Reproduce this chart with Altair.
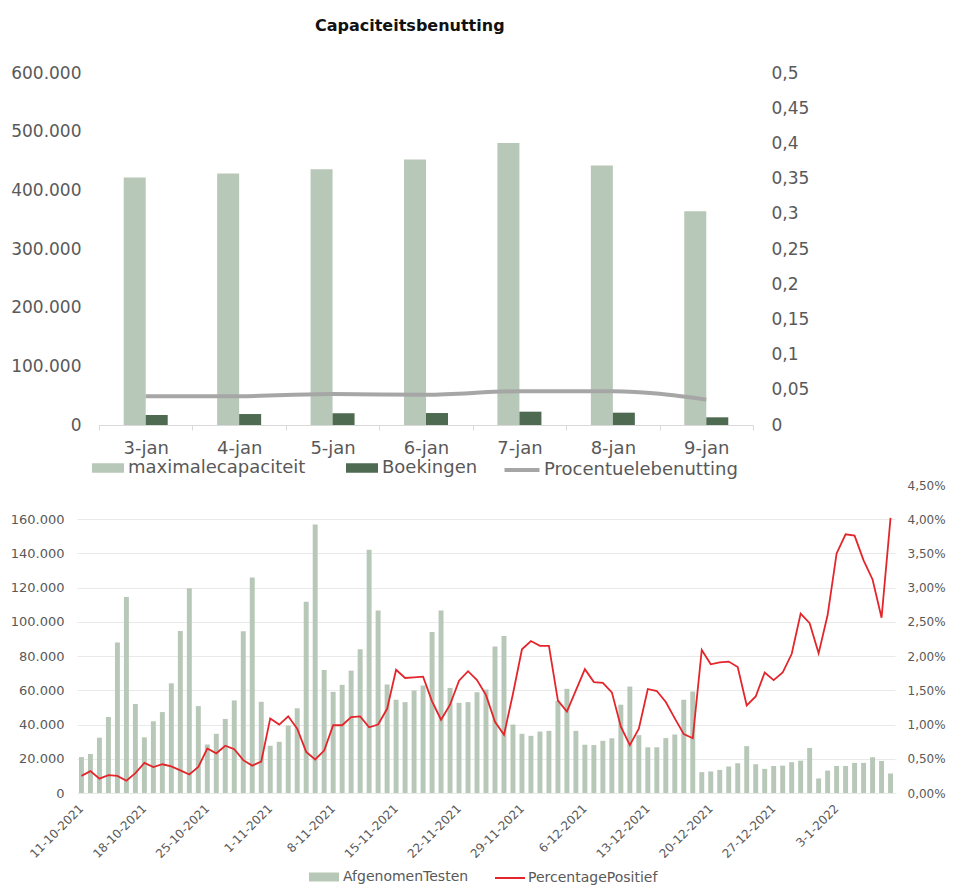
import altair as alt
import pandas as pd

# ---------------- data: top chart ----------------
dagen_top = ["3-jan", "4-jan", "5-jan", "6-jan", "7-jan", "8-jan", "9-jan"]
maximale_capaciteit = [421800, 428600, 436000, 452400, 480800, 442200, 364400]
boekingen = [17000, 18700, 19900, 20400, 22700, 21000, 13100]
procentuele_benutting = [0.041, 0.041, 0.044, 0.043, 0.048, 0.048, 0.036]

# ---------------- data: bottom chart ----------------
start_datum = "2021-10-11"
afgenomen_testen = [
    21000, 22800, 32300, 44400, 87900, 114600, 52000,
    32500, 41900, 47300, 64100, 94700, 119600, 50800,
    28400, 34600, 43300, 54100, 94500, 126000, 53300,
    27600, 29900, 39400, 49500, 111700, 156900, 71900,
    59100, 63200, 71500, 84000, 142200, 106600, 63400,
    54500, 53100, 59900, 62800, 94100, 106600, 61400,
    52700, 53100, 58900, 60500, 85600, 91800, 40000,
    34600, 33400, 35900, 36300, 53900, 60900, 36300,
    28200, 28000, 30500, 32000, 51600, 62200, 33800,
    26700, 26700, 32100, 34200, 54500, 59300, 12200,
    12600, 13500, 15500, 17400, 27400, 16800, 14100,
    15800, 16000, 18000, 18900, 26300, 8500, 13100,
    15800, 15800, 17600, 17600, 20900, 18700, 11400,
]
percentage_positief = [
    0.25, 0.32, 0.21, 0.26, 0.25, 0.18, 0.29,
    0.44, 0.38, 0.42, 0.39, 0.33, 0.27, 0.38,
    0.65, 0.58, 0.69, 0.64, 0.48, 0.40, 0.46,
    1.09, 1.00, 1.12, 0.94, 0.60, 0.49, 0.62,
    0.99, 0.99, 1.11, 1.12, 0.96, 1.00, 1.23,
    1.80, 1.68, 1.69, 1.70, 1.34, 1.07, 1.29,
    1.64, 1.78, 1.65, 1.43, 1.04, 0.85, 1.45,
    2.10, 2.22, 2.15, 2.15, 1.35, 1.19, 1.50,
    1.81, 1.62, 1.61, 1.47, 0.97, 0.70, 0.94,
    1.52, 1.49, 1.33, 1.09, 0.86, 0.80, 2.09,
    1.88, 1.91, 1.92, 1.84, 1.28, 1.41, 1.76,
    1.65, 1.76, 2.03, 2.62, 2.48, 2.04, 2.60,
    3.50, 3.78, 3.76, 3.40, 3.12, 2.56, 4.02,
]

datums = [f"{d.day}-{d.month}-{d.year}"
          for d in pd.date_range(start_datum, periods=len(afgenomen_testen))]
week_labels = datums[::7]

top_left_ticks = [0, 100000, 200000, 300000, 400000, 500000, 600000]
top_right_ticks = [0, 0.05, 0.1, 0.15, 0.2, 0.25, 0.3, 0.35, 0.4, 0.45, 0.5]
bot_left_ticks = [0, 20000, 40000, 60000, 80000, 100000, 120000, 140000, 160000]
bot_right_ticks = [0, 0.005, 0.01, 0.015, 0.02, 0.025, 0.03, 0.035, 0.04, 0.045]

FONT = "DejaVu Sans"
TXT = "#595959"
LIGHT = "#b8c8b8"
DARK = "#4e6a50"
GREYLINE = "#a6a6a6"
RED = "#e3262b"
RECT_BOT = "M-1,-0.3H1V0.3H-1Z"
RECT_TOP = "M-1.778,-0.528H1.778V0.528H-1.778Z"   # 32 x 9.5 px at symbolSize 324
LINE_TOP = "M-1.944,0H1.944"                       # 35 px at symbolSize 324

# layout (pixels)
TOP_W = 676            # top view width (both plots share the same left origin)
TOP_X0 = 22            # where the category axis of the top chart begins
TOP_H = 352
BOT_W = 818
BOT_H = 308
STEP_TOP = (TOP_W - TOP_X0) / len(dagen_top)
BAR_W = 22

thousands = "replace(format(datum.value, ','), ',', '.')"

# ---------------- top chart ----------------
series_top = ["maximalecapaciteit", "Boekingen"]
top_bars_df = pd.DataFrame({
    "dag": dagen_top * 2,
    "serie": [series_top[0]] * len(dagen_top) + [series_top[1]] * len(dagen_top),
    "waarde": maximale_capaciteit + boekingen,
})
top_line_df = pd.DataFrame({
    "dag": dagen_top,
    "reeks": ["Procentuelebenutting"] * len(dagen_top),
    "pct": procentuele_benutting,
})

x_top = alt.X(
    "dag:N", sort=dagen_top, title=None,
    scale=alt.Scale(paddingInner=0, paddingOuter=0, range=[TOP_X0, TOP_W]),
    axis=alt.Axis(labelAngle=0, tickBand="extent", domainColor="#d9d9d9",
                  tickColor="#d9d9d9", tickSize=5, labelFontSize=18, grid=False,
                  labelColor=TXT, labelPadding=9, labelFont=FONT),
)

bars_top = alt.Chart(top_bars_df).mark_bar().encode(
    x=x_top,
    xOffset=alt.XOffset("serie:N", sort=series_top,
                        scale=alt.Scale(paddingInner=0, paddingOuter=0,
                                        range=[STEP_TOP / 2 - BAR_W, STEP_TOP / 2 + BAR_W])),
    y=alt.Y("waarde:Q", title=None,
            scale=alt.Scale(domain=[0, 600000], nice=False),
            axis=alt.Axis(values=top_left_ticks, labelExpr=thousands,
                          domain=False, ticks=False, grid=False, offset=-4,
                          labelFontSize=17, labelColor=TXT, labelPadding=0,
                          labelFont=FONT)),
    fill=alt.Fill("serie:N", sort=series_top,
                  scale=alt.Scale(domain=series_top, range=[LIGHT, DARK]),
                  legend=alt.Legend(title=None, orient="none", direction="horizontal",
                                    legendX=22, legendY=386,
                                    symbolType=RECT_TOP, symbolSize=324,
                                    symbolStrokeWidth=0, labelFontSize=18,
                                    labelColor=TXT, labelFont=FONT, labelLimit=400,
                                    columnPadding=39, labelOffset=11)),
)

line_top = alt.Chart(top_line_df).mark_line(strokeWidth=4, interpolate="monotone").encode(
    x=alt.X("dag:N", sort=dagen_top),
    y=alt.Y("pct:Q", title=None,
            scale=alt.Scale(domain=[0, 0.5], nice=False),
            axis=alt.Axis(orient="right", values=top_right_ticks,
                          labelExpr="replace(format(datum.value, '~g'), '.', ',')",
                          domain=False, ticks=False, grid=False,
                          labelFontSize=17, labelColor=TXT, labelPadding=18,
                          labelFont=FONT)),
    stroke=alt.Stroke("reeks:N",
                      scale=alt.Scale(domain=["Procentuelebenutting"], range=[GREYLINE]),
                      legend=alt.Legend(title=None, orient="none", direction="horizontal",
                                        legendX=434, legendY=386,
                                        symbolType=LINE_TOP, symbolSize=324,
                                        symbolStrokeWidth=4, labelFontSize=18,
                                        labelColor=TXT, labelFont=FONT, labelLimit=400,
                                        labelOffset=11)),
)

top = alt.layer(bars_top, line_top).resolve_scale(y="independent").properties(
    width=TOP_W, height=TOP_H,
    title=alt.TitleParams("Capaciteitsbenutting", fontSize=16, fontWeight="bold",
                          font=FONT, color="#111111", frame="bounds",
                          anchor="middle", offset=30),
)

# ---------------- bottom chart ----------------
bot_df = pd.DataFrame({
    "datum": datums,
    "testen": afgenomen_testen,
    "pct": [p / 100 for p in percentage_positief],
    "balk": ["AfgenomenTesten"] * len(datums),
    "lijn": ["PercentagePositief"] * len(datums),
})

x_bot = alt.X(
    "datum:N", sort=datums, title=None,
    scale=alt.Scale(paddingInner=0.45, paddingOuter=0.22),
    axis=alt.Axis(values=week_labels, labelAngle=-45, labelAlign="right",
                  labelBaseline="middle", labelFontSize=12, labelColor=TXT,
                  domain=False, ticks=False, grid=False, labelPadding=13,
                  labelOverlap=False, labelFont=FONT),
)

bars_bot = alt.Chart(bot_df).mark_bar().encode(
    x=x_bot,
    y=alt.Y("testen:Q", title=None,
            scale=alt.Scale(domain=[0, 180000], nice=False),
            axis=alt.Axis(values=bot_left_ticks, labelExpr=thousands, grid=True,
                          gridColor="#e9e9e9", domain=False, ticks=False,
                          labelFontSize=13, labelColor=TXT, labelPadding=13,
                          labelFont=FONT)),
    fill=alt.Fill("balk:N",
                  scale=alt.Scale(domain=["AfgenomenTesten"], range=[LIGHT]),
                  legend=alt.Legend(title=None, orient="none", direction="horizontal",
                                    legendX=232, legendY=377,
                                    symbolType=RECT_BOT, symbolSize=900,
                                    symbolStrokeWidth=0, labelFontSize=14,
                                    labelColor=TXT, labelFont=FONT, labelLimit=400)),
)

line_bot = alt.Chart(bot_df).mark_line(strokeWidth=1.8).encode(
    x=alt.X("datum:N", sort=datums),
    y=alt.Y("pct:Q", title=None,
            scale=alt.Scale(domain=[0, 0.045], nice=False),
            axis=alt.Axis(orient="right", values=bot_right_ticks,
                          labelExpr="replace(format(datum.value, '.2%'), '.', ',')",
                          domain=False, ticks=False, grid=False,
                          labelFontSize=12, labelColor=TXT, labelPadding=12,
                          labelFont=FONT)),
    stroke=alt.Stroke("lijn:N",
                      scale=alt.Scale(domain=["PercentagePositief"], range=[RED]),
                      legend=alt.Legend(title=None, orient="none", direction="horizontal",
                                        legendX=417, legendY=377,
                                        symbolType="stroke", symbolSize=900,
                                        symbolStrokeWidth=2, labelFontSize=14,
                                        labelColor=TXT, labelFont=FONT, labelLimit=400,
                                        labelOffset=2)),
)

bottom = alt.layer(bars_bot, line_bot).resolve_scale(y="independent").properties(
    width=BOT_W, height=BOT_H,
)

chart = alt.vconcat(top, bottom, spacing=0).resolve_scale(
    fill="independent", stroke="independent"
).properties(
    padding={"left": 2, "top": 10, "right": 0, "bottom": 0},
).configure(font=FONT).configure_view(stroke=None)

chart.save("out.html", embed_options={"renderer": "svg", "actions": False})
